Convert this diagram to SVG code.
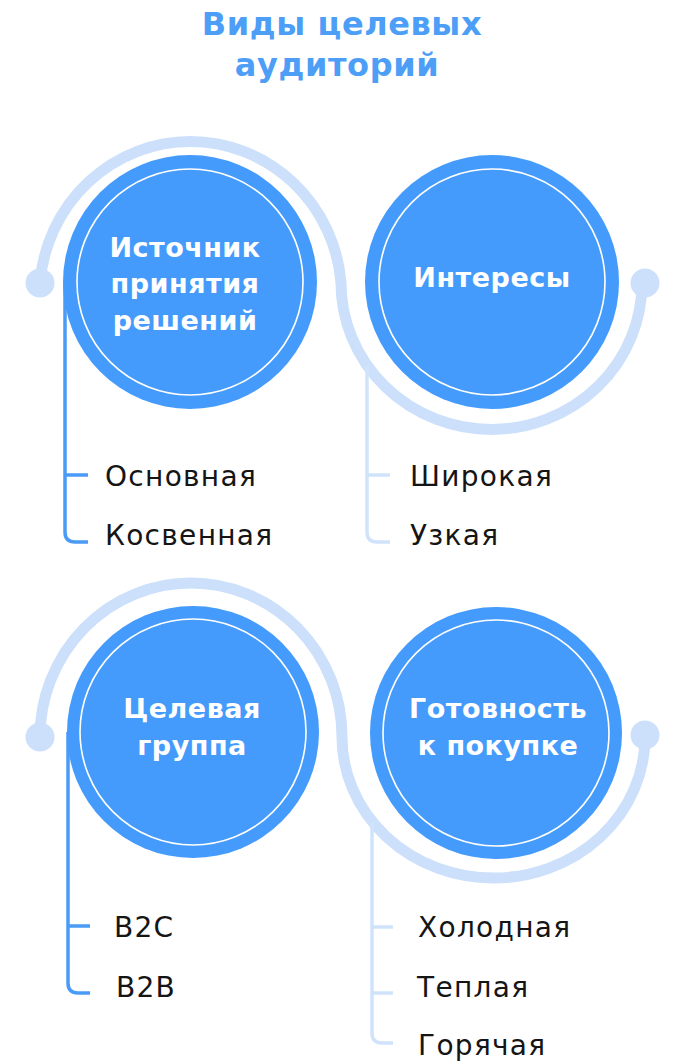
<svg xmlns="http://www.w3.org/2000/svg" width="680" height="1064" viewBox="0 0 680 1064">
<style>
.title{font-family:"DejaVu Sans",sans-serif;font-weight:bold;font-size:32px;fill:#4C9EF6;text-anchor:middle;letter-spacing:0.6px}
.lbl{font-family:"DejaVu Sans",sans-serif;font-weight:bold;font-size:27px;fill:#FFFFFF;text-anchor:middle;letter-spacing:0.5px}
.item{font-family:"DejaVu Sans",sans-serif;font-size:28px;fill:#151515;letter-spacing:1.3px}
.outer{fill:#459BFB}
.inner{fill:none;stroke:#FFFFFF;stroke-width:1.6}
.arc{fill:none;stroke:#CCE0FB;stroke-width:11}
.dot{fill:#CCE0FB}
.dark{fill:none;stroke:#4A9BF8;stroke-width:3.5}
.light{fill:none;stroke:#D0E3FB;stroke-width:3.5}
</style>
<rect width="680" height="1064" fill="#FFFFFF"/>
<g id="title">
<text class="title" x="342" y="35">Виды целевых</text>
<text class="title" x="337" y="76">аудиторий</text>
</g>
<g id="connectors">
<path class="arc" d="M40 283 A151 154 0 0 1 341 283 A150 146 0 0 0 642 283"/>
<circle class="dot" cx="40" cy="283" r="14.5"/>
<circle class="dot" cx="645" cy="283" r="14.5"/>
<path class="arc" d="M40 737 A151 154 0 0 1 342 737 A151.5 141 0 0 0 645 737"/>
<circle class="dot" cx="40" cy="737" r="14.5"/>
<circle class="dot" cx="645" cy="735" r="14.5"/>
<path class="dark" d="M65 282 V532 Q65 542 75 542 H88 M65 475 H88"/>
<path class="light" d="M367 366 V532 Q367 542 377 542 H390 M367 475 H390"/>
<path class="dark" d="M68 732 V983 Q68 993 78 993 H90 M68 926 H90"/>
<path class="light" d="M372 822 V1033 Q372 1043 382 1043 H393 M372 927 H393 M372 993 H393"/>
</g>
<g id="node-source">
<circle class="outer" cx="190" cy="282" r="127"/>
<circle class="inner" cx="190" cy="282" r="113"/>
<text class="lbl" x="185" y="257">Источник</text>
<text class="lbl" x="185" y="293">принятия</text>
<text class="lbl" x="185" y="330">решений</text>
</g>
<g id="node-interests">
<circle class="outer" cx="492" cy="282" r="127"/>
<circle class="inner" cx="492" cy="282" r="113"/>
<text class="lbl" x="492" y="287">Интересы</text>
</g>
<g id="node-group">
<circle class="outer" cx="193" cy="732" r="126"/>
<circle class="inner" cx="193" cy="732" r="113"/>
<text class="lbl" x="192" y="718">Целевая</text>
<text class="lbl" x="192" y="755">группа</text>
</g>
<g id="node-readiness">
<circle class="outer" cx="496" cy="733" r="126"/>
<circle class="inner" cx="496" cy="733" r="113"/>
<text class="lbl" x="498" y="718">Готовность</text>
<text class="lbl" x="498" y="755">к покупке</text>
</g>
<g id="list-source">
<text class="item" x="105" y="486">Основная</text>
<text class="item" x="105" y="545">Косвенная</text>
</g>
<g id="list-interests">
<text class="item" x="410" y="486">Широкая</text>
<text class="item" x="410" y="545">Узкая</text>
</g>
<g id="list-group">
<text class="item" x="114" y="937">B2C</text>
<text class="item" x="116" y="997">B2B</text>
</g>
<g id="list-readiness">
<text class="item" x="418" y="937">Холодная</text>
<text class="item" x="417" y="997">Теплая</text>
<text class="item" x="418" y="1055">Горячая</text>
</g>
</svg>
